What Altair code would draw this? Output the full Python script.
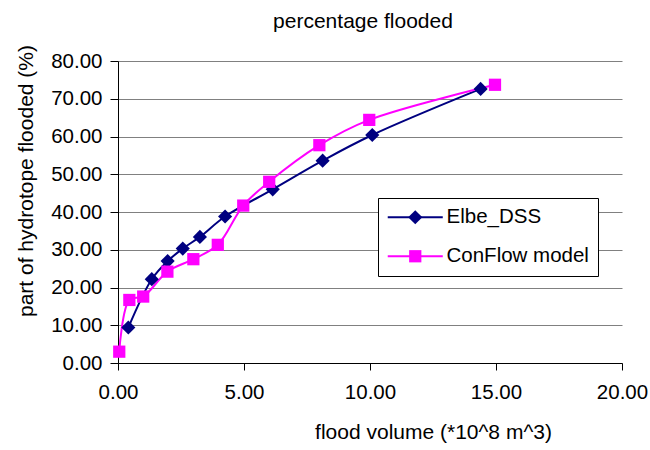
import altair as alt
import pandas as pd

series_names = ["Elbe_DSS", "ConFlow model"]
series_colors = ["#000080", "#FF00FF"]
series_shapes = ["diamond", "square"]
series_sizes = [200, 150]

elbe_volume = [0.41, 1.34, 1.97, 2.57, 3.25, 4.25, 6.14, 8.12, 10.09, 14.39]
elbe_pct = [9.4, 22.2, 27.0, 30.3, 33.4, 38.8, 46.0, 53.6, 60.4, 72.6]

conflow_volume = [0.05, 0.45, 1.0, 1.96, 2.99, 3.96, 4.97, 6.0, 7.99, 9.97, 14.96]
conflow_pct = [3.0, 16.7, 17.6, 24.2, 27.5, 31.3, 41.7, 48.0, 57.7, 64.4, 73.7]

x_ticks = [0, 5, 10, 15, 20]
y_ticks = [0, 10, 20, 30, 40, 50, 60, 70, 80]

rows = []
for i, (v, p) in enumerate(zip(elbe_volume, elbe_pct)):
    rows.append({"volume": v, "pct": p, "series": series_names[0], "name": series_names[0], "idx": i})
for i, (v, p) in enumerate(zip(conflow_volume, conflow_pct)):
    rows.append({"volume": v, "pct": p, "series": series_names[1], "name": series_names[1], "idx": i})
df = pd.DataFrame(rows)

FONT = "Liberation Sans"

x_enc = alt.X(
    "volume:Q",
    scale=alt.Scale(domain=[0, 20], nice=False, zero=False),
    axis=alt.Axis(
        values=x_ticks, format=".2f", grid=False, tickSize=7, labelPadding=12,
        labelFlush=False, labelFontSize=20.5, title="flood volume (*10^8 m^3)",
        titleFontSize=21, titleFontWeight="normal", titleX=315, titleY=75,
        titleBaseline="alphabetic", titleAlign="center",
    ),
)
y_enc = alt.Y(
    "pct:Q",
    scale=alt.Scale(domain=[0, 80], nice=False),
    axis=alt.Axis(
        values=y_ticks, format=".2f", grid=True, gridColor="#808080", gridWidth=1,
        tickSize=8, labelPadding=8, labelFlush=False, labelFontSize=20.5,
        title="part of hydrotope flooded (%)", titleFontSize=21, titleFontWeight="normal",
        titleX=-86, titleY=119.5, titleAngle=-90, titleBaseline="alphabetic", titleAlign="center",
    ),
)

common_legend = dict(
    orient="none", legendX=260, legendY=137, title=None, padding=9, rowPadding=18,
    labelFontSize=20.5, labelFont=FONT, symbolOffset=18, labelOffset=21,
    direction="vertical", symbolSize=90, symbolStrokeWidth=2,
)

legend_line = alt.Legend(
    symbolType="M-5.8,0H5.8", fillColor="white", strokeColor="black", labelOpacity=0,
    **common_legend,
)
legend_pts = alt.Legend(**common_legend)

lines = alt.Chart(df).mark_line(interpolate="catmull-rom", strokeWidth=2).encode(
    x=x_enc,
    y=y_enc,
    stroke=alt.Stroke("series:N", sort=series_names, scale=alt.Scale(range=series_colors), legend=legend_line),
    order="idx:Q",
)

points = alt.Chart(df).mark_point(filled=True, opacity=1).encode(
    x=x_enc,
    y=y_enc,
    color=alt.Color("name:N", scale=alt.Scale(domain=series_names, range=series_colors), legend=legend_pts),
    shape=alt.Shape("name:N", scale=alt.Scale(domain=series_names, range=series_shapes), legend=legend_pts),
    size=alt.Size("name:N", scale=alt.Scale(domain=series_names, range=series_sizes), legend=None),
)

chart = alt.layer(lines, points).properties(
    width=504,
    height=302,
    padding={"left": 118, "top": 61, "right": 28, "bottom": 87},
    autosize=alt.AutoSizeParams(type="none"),
    title=alt.TitleParams(
        "percentage flooded", fontSize=21, fontWeight="normal", anchor="middle",
        frame="group", baseline="alphabetic", offset=0, dy=4, dx=-7, color="black",
    ),
).configure(font=FONT, background="white").configure_view(stroke=None).configure_axis(
    labelColor="black", titleColor="black", domainColor="black", tickColor="black",
    labelFont=FONT, titleFont=FONT,
)

chart.save("out.html", embed_options={"renderer": "svg", "actions": False})
